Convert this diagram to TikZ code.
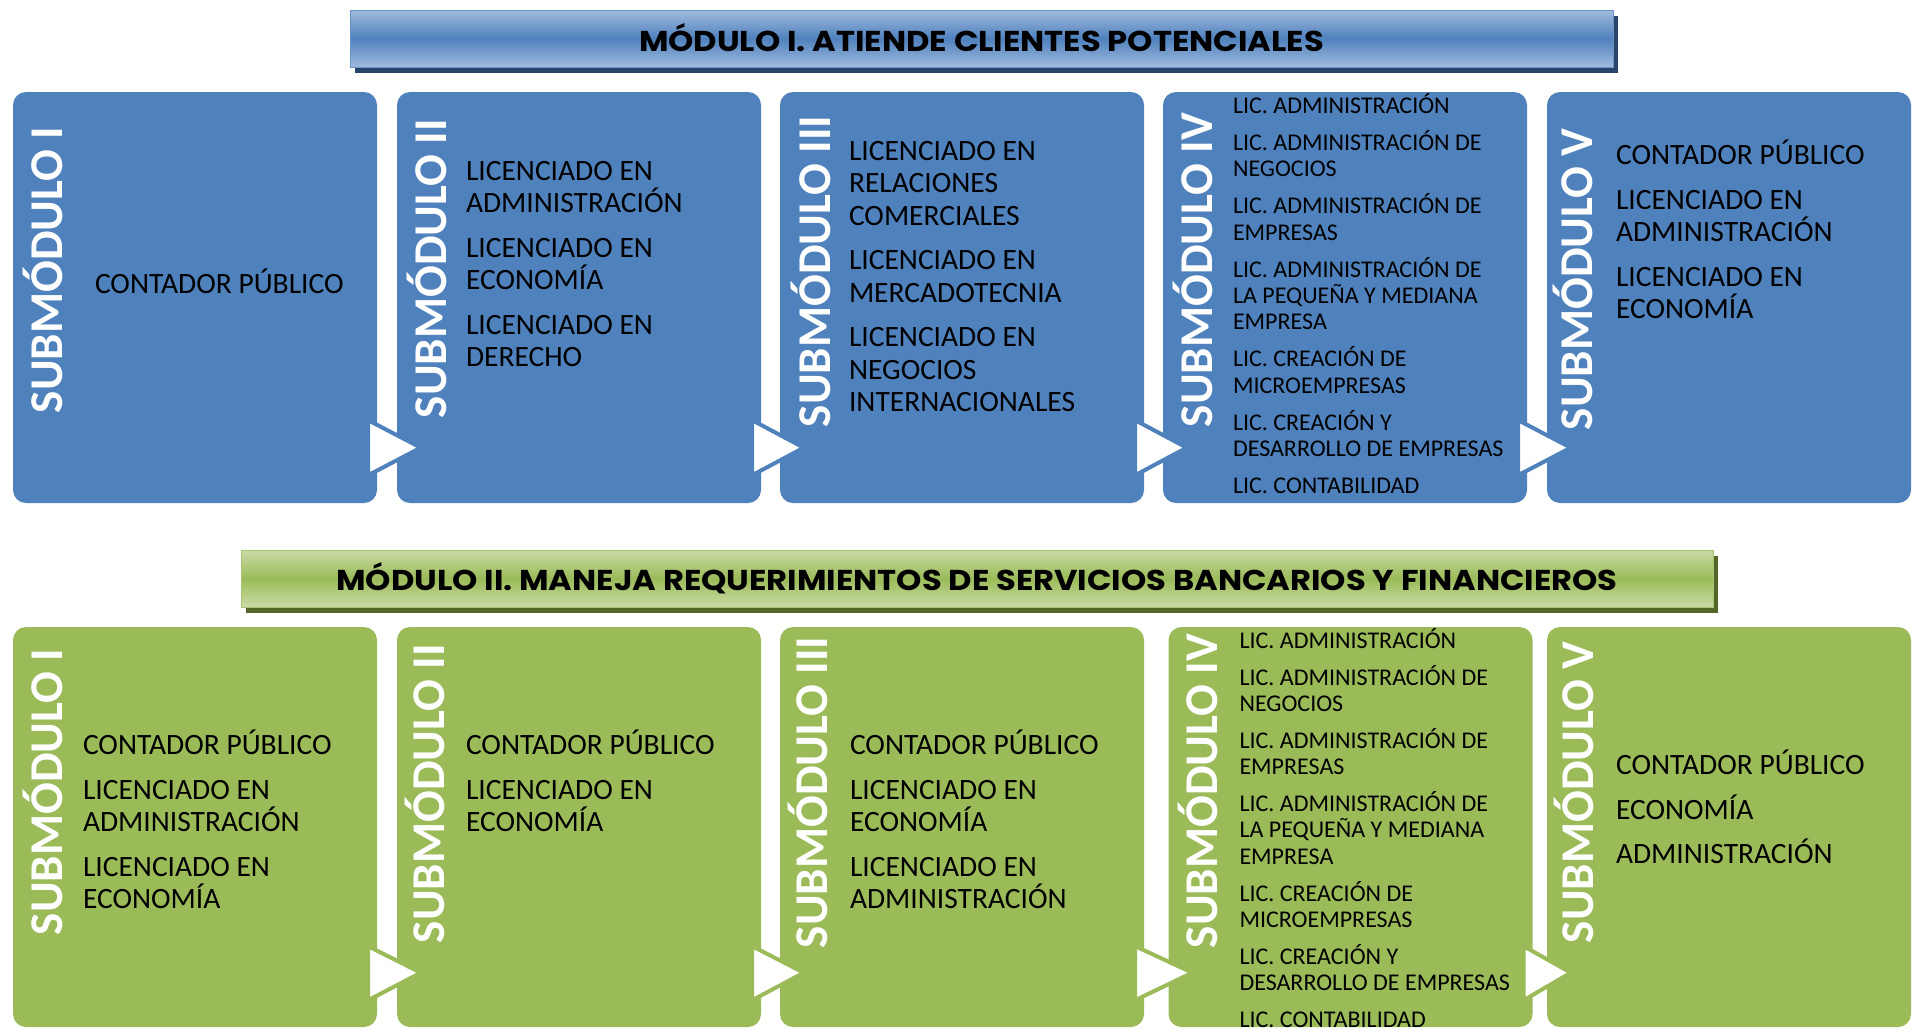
\documentclass[tikz,border=0pt]{standalone}
\usepackage{fontspec}
\setmainfont{Carlito}
\newfontfamily\headfont[FakeStretch=1.12]{Poppins}
\usetikzlibrary{positioning,shadows}

\definecolor{modblue}{HTML}{4F81BD}
\definecolor{modbluelt}{HTML}{A0BBDE}
\definecolor{modbluedk}{HTML}{27446A}
\definecolor{modgreen}{HTML}{9BBB59}
\definecolor{modgreenlt}{HTML}{CADBA6}
\definecolor{modgreendk}{HTML}{526629}

\begin{document}
\begin{tikzpicture}[x=1pt,y=-1pt,
    box/.style={rounded corners=13pt, minimum width=364pt, inner sep=0pt},
    rowa/.style={box, fill=modblue, minimum height=411pt},
    rowb/.style={box, fill=modgreen, minimum height=400pt},
    header/.style={minimum height=57pt, inner sep=0pt, line width=1pt,
      font=\headfont\bfseries\fontsize{28.7}{28.7}\selectfont},
    sublabel/.style={rotate=90, anchor=base west, inner sep=0pt, text=white,
      font=\bfseries\fontsize{47}{47}\selectfont},
    items/.style={anchor=base west, align=left, inner sep=0pt,
      font=\fontsize{29.5}{32.5}\selectfont},
    smallitems/.style={items, font=\fontsize{24}{26.3}\selectfont},
    chev/.style={fill=white, draw=#1, line width=4pt}]
  \useasboundingbox (0,0) rectangle (1917,1029);

  % modulo I
  \node (m1) [header, minimum width=1263pt, draw=modblue!85,
    top color=modbluelt, bottom color=modbluelt, middle color=modblue,
    general shadow={fill=modbluedk, shadow xshift=5pt, shadow yshift=-6pt}]
    at (981.5,38.5) {\raisebox{3pt}{MÓDULO I. ATIENDE CLIENTES POTENCIALES}};

  \node (a1) [rowa] at (195,297.5) {};
  \node (a2) [rowa] at (579,297.5) {};
  \node (a3) [rowa] at (962,297.5) {};
  \node (a4) [rowa] at (1345,297.5) {};
  \node (a5) [rowa] at (1729,297.5) {};
  \foreach \i/\j in {a1/a2,a2/a3,a3/a4,a4/a5}
    \draw[chev=modblue] ([xshift=-9pt,yshift=83pt]\i.south east)
      -- ([xshift=-9pt,yshift=28pt]\i.south east)
      -- ([xshift=24pt,yshift=55.5pt]\j.south west) -- cycle;

  \node (la1) [sublabel] at ([xshift=50pt,yshift=90pt]a1.south west) {SUBMÓDULO I};
  \node (la2) [sublabel] at ([xshift=50pt,yshift=85pt]a2.south west) {SUBMÓDULO II};
  \node (la3) [sublabel] at ([xshift=51pt,yshift=76pt]a3.south west) {SUBMÓDULO III};
  \node (la4) [sublabel] at ([xshift=50pt,yshift=76pt]a4.south west) {SUBMÓDULO IV};
  \node (la5) [sublabel] at ([xshift=46pt,yshift=73pt]a5.south west) {SUBMÓDULO V};

  % base = last line
  \node (ta1) [items] at ([xshift=82pt,yshift=-202pt]a1.north west) {CONTADOR PÚBLICO};
  \node (ta2) [items] at ([xshift=69pt,yshift=-275pt]a2.north west)
    {LICENCIADO EN\\ADMINISTRACIÓN\\[12pt]LICENCIADO EN\\ECONOMÍA\\[12pt]LICENCIADO EN\\DERECHO};
  \node (ta3) [items] at ([xshift=69pt,yshift=-320pt]a3.north west)
    {LICENCIADO EN\\RELACIONES\\COMERCIALES\\[12pt]LICENCIADO EN\\MERCADOTECNIA\\[12pt]LICENCIADO EN\\NEGOCIOS\\INTERNACIONALES};
  \node (ta4) [smallitems] at ([xshift=70pt,yshift=-401.5pt]a4.north west)
    {LIC. ADMINISTRACIÓN\\[10.7pt]LIC. ADMINISTRACIÓN DE\\NEGOCIOS\\[10.7pt]LIC. ADMINISTRACIÓN DE\\EMPRESAS\\[10.7pt]LIC. ADMINISTRACIÓN DE\\LA PEQUEÑA Y MEDIANA\\EMPRESA\\[10.7pt]LIC. CREACIÓN DE\\MICROEMPRESAS\\[10.7pt]LIC. CREACIÓN Y\\DESARROLLO DE EMPRESAS\\[10.7pt]LIC. CONTABILIDAD};
  \node (ta5) [items] at ([xshift=69pt,yshift=-227pt]a5.north west)
    {CONTADOR PÚBLICO\\[12pt]LICENCIADO EN\\ADMINISTRACIÓN\\[12pt]LICENCIADO EN\\ECONOMÍA};

  % modulo II
  \node (m2) [header, minimum width=1472pt, draw=modgreen!85,
    top color=modgreenlt, bottom color=modgreenlt, middle color=modgreen,
    general shadow={fill=modgreendk, shadow xshift=5pt, shadow yshift=-6pt}]
    at (977,578.5) {\raisebox{3pt}{MÓDULO II. MANEJA REQUERIMIENTOS DE SERVICIOS BANCARIOS Y FINANCIEROS}};

  \node (b1) [rowb] at (195,827) {};
  \node (b2) [rowb] at (579,827) {};
  \node (b3) [rowb] at (962,827) {};
  \node (b4) [rowb] at (1350.5,827) {};
  \node (b5) [rowb] at (1729,827) {};
  \foreach \i/\j in {b1/b2,b2/b3,b3/b4,b4/b5}
    \draw[chev=modgreen] ([xshift=-9pt,yshift=81pt]\i.south east)
      -- ([xshift=-9pt,yshift=27pt]\i.south east)
      -- ([xshift=24pt,yshift=54.5pt]\j.south west) -- cycle;

  \node (lb1) [sublabel] at ([xshift=50pt,yshift=92pt]b1.south west) {SUBMÓDULO I};
  \node (lb2) [sublabel] at ([xshift=48pt,yshift=84pt]b2.south west) {SUBMÓDULO II};
  \node (lb3) [sublabel] at ([xshift=48pt,yshift=79pt]b3.south west) {SUBMÓDULO III};
  \node (lb4) [sublabel] at ([xshift=49pt,yshift=79pt]b4.south west) {SUBMÓDULO IV};
  \node (lb5) [sublabel] at ([xshift=47pt,yshift=84pt]b5.south west) {SUBMÓDULO V};

  \node (tb1) [items] at ([xshift=70pt,yshift=-282pt]b1.north west)
    {CONTADOR PÚBLICO\\[12pt]LICENCIADO EN\\ADMINISTRACIÓN\\[12pt]LICENCIADO EN\\ECONOMÍA};
  \node (tb2) [items] at ([xshift=69pt,yshift=-205pt]b2.north west)
    {CONTADOR PÚBLICO\\[12pt]LICENCIADO EN\\ECONOMÍA};
  \node (tb3) [items] at ([xshift=70pt,yshift=-282pt]b3.north west)
    {CONTADOR PÚBLICO\\[12pt]LICENCIADO EN\\ECONOMÍA\\[12pt]LICENCIADO EN\\ADMINISTRACIÓN};
  \node (tb4) [smallitems] at ([xshift=71pt,yshift=-401pt]b4.north west)
    {LIC. ADMINISTRACIÓN\\[10.7pt]LIC. ADMINISTRACIÓN DE\\NEGOCIOS\\[10.7pt]LIC. ADMINISTRACIÓN DE\\EMPRESAS\\[10.7pt]LIC. ADMINISTRACIÓN DE\\LA PEQUEÑA Y MEDIANA\\EMPRESA\\[10.7pt]LIC. CREACIÓN DE\\MICROEMPRESAS\\[10.7pt]LIC. CREACIÓN Y\\DESARROLLO DE EMPRESAS\\[10.7pt]LIC. CONTABILIDAD};
  \node (tb5) [items] at ([xshift=69pt,yshift=-237pt]b5.north west)
    {CONTADOR PÚBLICO\\[12pt]ECONOMÍA\\[12pt]ADMINISTRACIÓN};
\end{tikzpicture}
\end{document}
